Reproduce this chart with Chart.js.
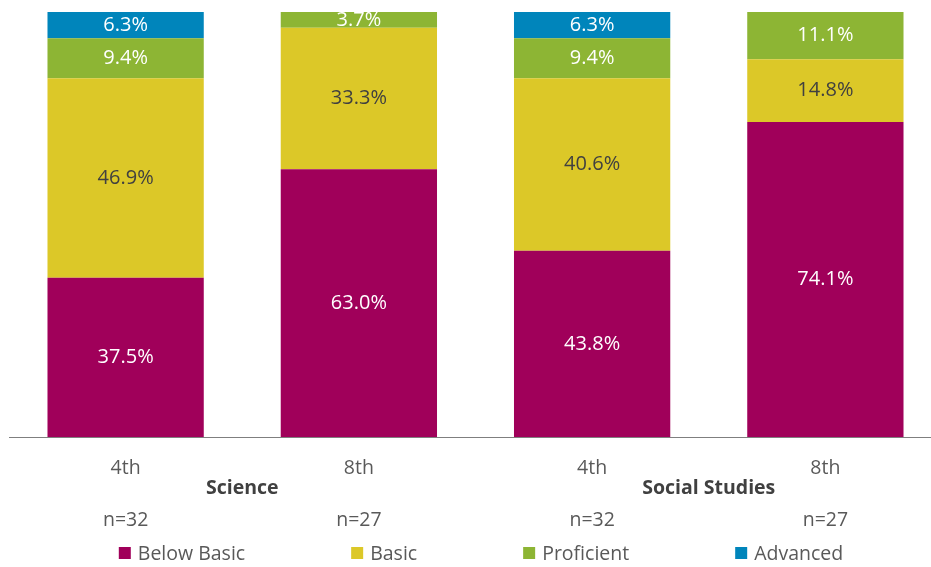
<!DOCTYPE html>
<html>
<head>
<meta charset="utf-8">
<script src="https://cdn.jsdelivr.net/npm/chart.js@4.4.1/dist/chart.umd.min.js"></script>
<style>
  html, body { margin: 0; padding: 0; background: #fff; overflow: hidden; }
  #wrap { width: 942px; height: 567px; }
</style>
</head>
<body>
<div id="wrap"><canvas id="chart" width="942" height="567"></canvas></div>
<script>
const grades = ["4th", "8th", "4th", "8th"];
const counts = ["n=32", "n=27", "n=32", "n=27"];
const subjects = ["Science", "Social Studies"];

const belowBasic = [37.5, 63.0, 43.8, 74.1];
const basic = [46.9, 33.3, 40.6, 14.8];
const proficient = [9.4, 3.7, 9.4, 11.1];
const advanced = [6.3, null, 6.3, null];

const FONT = "'Open Sans', 'Noto Sans', sans-serif";
const TEXT = "#595959";

// value labels in the middle of each segment
const segmentLabels = {
    id: "segmentLabels",
    afterDatasetsDraw(chart) {
        const ctx = chart.ctx;
        ctx.save();
        ctx.font = "20px " + FONT;
        ctx.textAlign = "center";
        ctx.textBaseline = "middle";
        chart.data.datasets.forEach((ds, di) => {
            const meta = chart.getDatasetMeta(di);
            meta.data.forEach((bar, i) => {
                const v = ds.data[i];
                if (v == null) return;
                const top = Math.max(bar.y, chart.chartArea.top);
                ctx.fillStyle = ds.labelColor;
                ctx.fillText(v.toFixed(1) + "%", bar.x, (top + bar.base) / 2);
            });
        });
        ctx.restore();
    }
};

// subject names under the grade pairs + legend
const extras = {
    id: "extras",
    afterDraw(chart) {
        const ctx = chart.ctx;
        const x = chart.scales.x;
        ctx.save();
        ctx.fillStyle = "#404040";
        ctx.font = "bold 19.5px " + FONT;
        ctx.textAlign = "center";
        ctx.textBaseline = "middle";
        subjects.forEach((s, i) => {
            const cx = (x.getPixelForValue(i * 2) + x.getPixelForValue(i * 2 + 1)) / 2;
            ctx.fillText(s, cx, x.top + 51);
        });

        // legend
        ctx.font = "19.5px " + FONT;
        ctx.textAlign = "left";
        const box = 12, gap = 7, spacing = 106;
        const items = chart.data.datasets.map(d => ({
            label: d.label, color: d.backgroundColor,
            w: box + gap + ctx.measureText(d.label).width
        }));
        const total = items.reduce((a, it) => a + it.w, 0) + spacing * (items.length - 1);
        let lx = 481 - total / 2;
        const ly = 553;
        items.forEach(it => {
            ctx.fillStyle = it.color;
            ctx.fillRect(lx, ly - box / 2, box, box);
            ctx.fillStyle = TEXT;
            ctx.fillText(it.label, lx + box + gap, ly + 1);
            lx += it.w + spacing;
        });
        ctx.restore();
    }
};

new Chart(document.getElementById("chart").getContext("2d"), {
    type: "bar",
    data: {
        labels: grades.map((g, i) => [g, "", counts[i]]),
        datasets: [
            { label: "Below Basic", data: belowBasic, backgroundColor: "#A0005A", labelColor: "#ffffff" },
            { label: "Basic", data: basic, backgroundColor: "#DCC828", labelColor: "#404040" },
            { label: "Proficient", data: proficient, backgroundColor: "#8DB534", labelColor: "#ffffff" },
            { label: "Advanced", data: advanced, backgroundColor: "#0085BB", labelColor: "#ffffff" }
        ]
    },
    options: {
        responsive: false,
        animation: false,
        layout: { padding: { left: 9, right: 0, top: 12, bottom: 16 } },
        datasets: { bar: { barPercentage: 0.67, categoryPercentage: 1 } },
        plugins: {
            legend: { display: false },
            tooltip: { enabled: false }
        },
        scales: {
            x: {
                stacked: true,
                grid: { display: false, drawTicks: false },
                border: { display: true, color: "#7f7f7f", width: 1 },
                ticks: {
                    color: TEXT,
                    font: { family: FONT, size: 19.5, lineHeight: 26 / 19.5 },
                    padding: 18,
                    maxRotation: 0,
                    autoSkip: false
                }
            },
            y: {
                stacked: true,
                display: false,
                min: 0,
                max: 100
            }
        }
    },
    plugins: [segmentLabels, extras]
});
</script>
</body>
</html>
